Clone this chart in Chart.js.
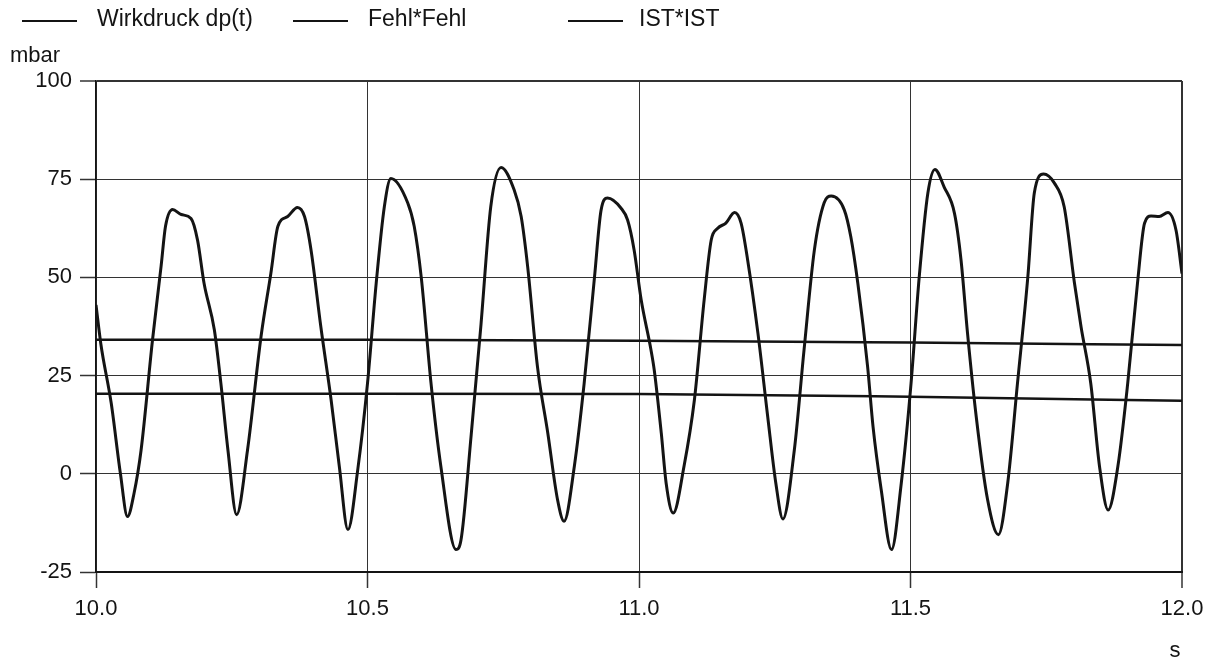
<!DOCTYPE html>
<html>
<head>
<meta charset="utf-8">
<title>Wirkdruck dp(t)</title>
<script src="https://cdn.jsdelivr.net/npm/chart.js@4.4.1/dist/chart.umd.min.js"></script>
<style>
  html, body { margin: 0; padding: 0; background: #fff; }
  #wrap { width: 1214px; height: 661px; position: relative; }
</style>
</head>
<body>
<div id="wrap"><canvas id="c" width="1214" height="661"></canvas></div>
<script>
// Zeitachse in s
const timeS = [
  10.000, 10.009, 10.028, 10.045, 10.058, 10.070, 10.083, 10.104, 10.120, 10.128,
  10.141, 10.157, 10.175, 10.187, 10.199, 10.218, 10.230, 10.243, 10.259, 10.279,
  10.304, 10.322, 10.335, 10.353, 10.371, 10.384, 10.396, 10.414, 10.433, 10.448,
  10.464, 10.482, 10.500, 10.516, 10.531, 10.543, 10.574, 10.586, 10.599, 10.617,
  10.635, 10.663, 10.672, 10.691, 10.709, 10.727, 10.746, 10.770, 10.783, 10.795,
  10.813, 10.832, 10.850, 10.862, 10.881, 10.899, 10.918, 10.930, 10.942, 10.967,
  10.979, 10.991, 11.004, 11.022, 11.028, 11.041, 11.050, 11.063, 11.083, 11.102,
  11.120, 11.133, 11.145, 11.160, 11.176, 11.188, 11.200, 11.219, 11.237, 11.252,
  11.265, 11.286, 11.304, 11.323, 11.341, 11.354, 11.378, 11.390, 11.403, 11.421,
  11.431, 11.446, 11.465, 11.483, 11.501, 11.516, 11.532, 11.545, 11.562, 11.581,
  11.593, 11.605, 11.621, 11.642, 11.662, 11.679, 11.697, 11.716, 11.728, 11.745,
  11.765, 11.783, 11.802, 11.814, 11.832, 11.848, 11.864, 11.882, 11.900, 11.918,
  11.931, 11.943, 11.958, 11.974, 11.989, 12.000
];

// Wirkdruck dp(t) in mbar
const wirkdruck = [
  43, 33, 18, 0, -10.9, -5, 6, 34, 53, 63,
  67.3, 66, 65, 59.5, 48.5, 36.6, 23, 6, -10.4, 6,
  35, 51, 63, 65.5, 67.8, 65.5, 57, 37.5, 18.8, 2,
  -14.2, 1, 23, 48.5, 68, 75.2, 69, 63, 50, 23,
  2, -19.3, -17, 10, 38, 68, 78, 72.3, 65.5, 52.7,
  27.3, 10.4, -6.6, -12.1, 2, 23, 50, 67, 70.2, 67.6,
  64.6, 57, 44.3, 31.6, 26.5, 10.4, -2.4, -10, 2, 18.8,
  44.3, 59.5, 62.5, 63.8, 66.5, 63.8, 54.5, 35.8, 14.6, -2.4,
  -11.5, 6, 31.6, 57, 69, 70.7, 67.2, 60.4, 48.5, 27.3,
  12, -4, -19.3, -2.4, 23, 50, 71.5, 77.5, 73, 66.3,
  54.5, 35.8, 14.6, -6.6, -15.5, -2.4, 23, 50, 71.5, 76.3,
  74, 68, 48.5, 37.5, 23, 2, -9.2, 2, 23, 48.5,
  63.8, 65.6, 65.5, 66.5, 62, 51
];

// langsam veränderliche Kenngrößen
const kennTimes = [10.0, 10.5, 11.0, 11.5, 12.0];
const fehlFehl = [20.4, 20.4, 20.3, 19.6, 18.6];
const istIst   = [34.1, 34.1, 33.9, 33.4, 32.8];

// Achsen
const xTicks = [10.0, 10.5, 11.0, 11.5, 12.0];
const yTicks = [-25, 0, 25, 50, 75, 100];
const seriesLabels = ['Wirkdruck dp(t)', 'Fehl*Fehl', 'IST*IST'];

const toPoints = (xs, ys) => xs.map((x, i) => ({ x: x, y: ys[i] }));

const FONT = "'Liberation Sans', Arial, Helvetica, sans-serif";
const INK = '#141414';

// Legende (oben) und Einheiten
const annotations = {
  id: 'annotations',
  afterDraw(chart) {
    const ctx = chart.ctx;
    ctx.save();
    ctx.fillStyle = INK;
    ctx.strokeStyle = INK;
    ctx.font = '23px ' + FONT;
    ctx.textBaseline = 'middle';
    ctx.textAlign = 'left';
    const slots = [[22, 97], [293, 368], [568, 639]];
    chart.data.datasets.forEach((ds, i) => {
      const [lx, tx] = slots[i];
      ctx.lineWidth = 2;
      ctx.beginPath();
      ctx.moveTo(lx, 21);
      ctx.lineTo(lx + 55, 21);
      ctx.stroke();
      ctx.fillText(ds.label, tx, 20);
    });
    ctx.font = '22px ' + FONT;
    ctx.fillText('mbar', 10, 56);
    ctx.textAlign = 'center';
    ctx.fillText('s', 1175, 651);
    ctx.restore();
  }
};

new Chart(document.getElementById('c'), {
  type: 'line',
  data: {
    datasets: [
      {
        label: seriesLabels[0],
        data: toPoints(timeS, wirkdruck),
        borderColor: INK,
        borderWidth: 3,
        pointRadius: 0,
        cubicInterpolationMode: 'monotone',
        fill: false
      },
      {
        label: seriesLabels[1],
        data: toPoints(kennTimes, fehlFehl),
        borderColor: INK,
        borderWidth: 2.5,
        pointRadius: 0,
        cubicInterpolationMode: 'monotone',
        fill: false
      },
      {
        label: seriesLabels[2],
        data: toPoints(kennTimes, istIst),
        borderColor: INK,
        borderWidth: 2.5,
        pointRadius: 0,
        cubicInterpolationMode: 'monotone',
        fill: false
      }
    ]
  },
  options: {
    responsive: false,
    animation: false,
    devicePixelRatio: 1,
    layout: { padding: { top: 81, right: 32, left: 0, bottom: 0 } },
    plugins: {
      legend: { display: false },
      title: { display: false },
      tooltip: { enabled: false }
    },
    scales: {
      x: {
        type: 'linear',
        min: 10,
        max: 12,
        afterFit(scale) { scale.height = 89; },
        afterBuildTicks(scale) { scale.ticks = xTicks.map(v => ({ value: v })); },
        ticks: {
          color: INK,
          font: { family: FONT, size: 22 },
          padding: 8,
          maxRotation: 0,
          callback: v => Number(v).toFixed(1)
        },
        grid: {
          color: '#333',
          lineWidth: c => (c.tick && c.tick.value === 12) ? 2 : 1,
          tickLength: 16,
          tickColor: '#333',
          tickWidth: 1.5
        },
        border: { display: true, color: INK, width: 2 }
      },
      y: {
        type: 'linear',
        min: -25,
        max: 100,
        afterFit(scale) { scale.width = 96; },
        afterBuildTicks(scale) { scale.ticks = yTicks.map(v => ({ value: v })); },
        ticks: {
          color: INK,
          font: { family: FONT, size: 22 },
          padding: 8,
          callback: v => String(v)
        },
        grid: {
          color: '#333',
          lineWidth: c => (c.tick && c.tick.value === 100) ? 2 : 1,
          tickLength: 16,
          tickColor: '#333',
          tickWidth: 1.5
        },
        border: { display: true, color: INK, width: 1.5 }
      }
    }
  },
  plugins: [annotations]
});
</script>
</body>
</html>
